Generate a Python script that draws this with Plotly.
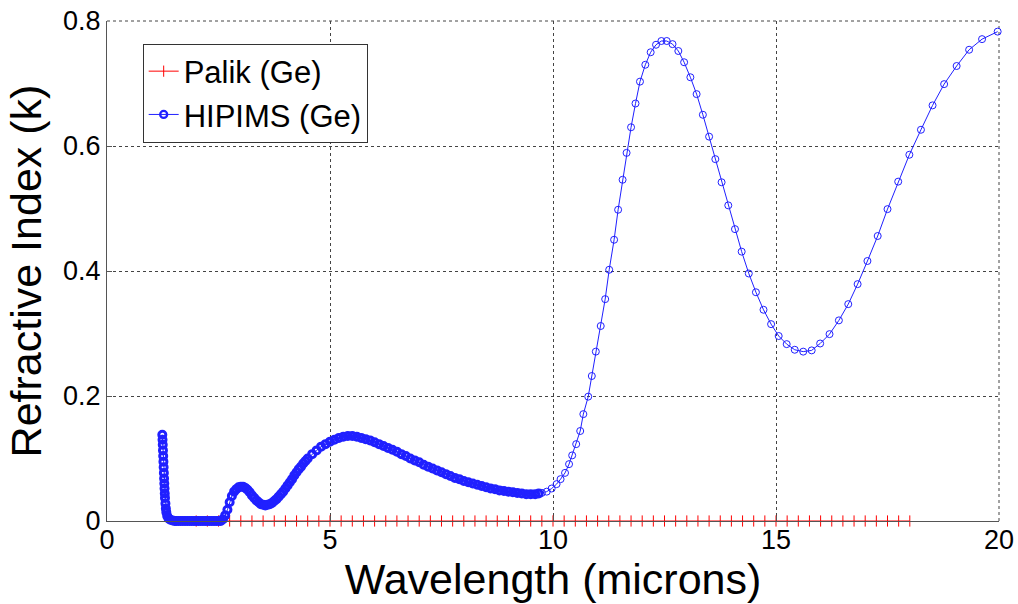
import plotly.graph_objects as go

# ---- Data ----
palik_wavelength = [2.0, 2.25, 2.5, 2.75, 3.0, 3.25, 3.5, 3.75, 4.0, 4.25, 4.5, 4.75,
                    5.0, 5.25, 5.5, 5.75, 6.0, 6.25, 6.5, 6.75, 7.0, 7.25, 7.5, 7.75,
                    8.0, 8.25, 8.5, 8.75, 9.0, 9.25, 9.5, 9.75, 10.0, 10.25, 10.5, 10.75,
                    11.0, 11.25, 11.5, 11.75, 12.0, 12.25, 12.5, 12.75, 13.0, 13.25, 13.5,
                    13.75, 14.0, 14.25, 14.5, 14.75, 15.0, 15.25, 15.5, 15.75, 16.0, 16.25,
                    16.5, 16.75, 17.0, 17.25, 17.5, 17.75, 18.0]
palik_k = [0.0] * len(palik_wavelength)

hipims_wavelength = [
    1.240, 1.245, 1.250, 1.255, 1.260, 1.265, 1.270, 1.275, 1.280, 1.285, 1.290, 1.295,
    1.300, 1.310, 1.320, 1.330, 1.350, 1.380, 1.420, 1.470, 1.520,
    1.55, 1.60, 1.65, 1.70, 1.75, 1.80, 1.85, 1.90, 1.95, 2.00, 2.05, 2.10, 2.15, 2.20,
    2.25, 2.30, 2.35, 2.40, 2.45, 2.50, 2.55,
    2.60, 2.65, 2.70, 2.75, 2.80, 2.85, 2.90, 2.95, 3.00, 3.05, 3.10, 3.15, 3.20, 3.25,
    3.30, 3.35, 3.40, 3.45, 3.50, 3.55, 3.60, 3.65, 3.70, 3.75, 3.80, 3.85, 3.90, 3.95,
    4.00, 4.05, 4.10, 4.15, 4.20, 4.25, 4.30, 4.35, 4.40, 4.45, 4.50,
    4.60, 4.70, 4.80, 4.90, 5.00, 5.10, 5.20, 5.30, 5.40, 5.50, 5.60, 5.70, 5.80, 5.90,
    6.00, 6.10, 6.20, 6.30, 6.40, 6.50, 6.60, 6.70, 6.80, 6.90, 7.00, 7.10, 7.20, 7.30,
    7.40, 7.50, 7.60, 7.70, 7.80, 7.90, 8.00, 8.10, 8.20, 8.30, 8.40, 8.50, 8.60, 8.70,
    8.80, 8.90, 9.00, 9.10, 9.20, 9.30, 9.40, 9.50, 9.60, 9.68,
    9.75, 9.86, 9.97, 10.08, 10.17, 10.27, 10.36, 10.43, 10.52, 10.61, 10.68, 10.79,
    10.87, 10.96, 11.07, 11.17, 11.26, 11.37, 11.46, 11.56, 11.65, 11.75, 11.85, 11.95,
    12.07, 12.19, 12.31, 12.43, 12.55, 12.68, 12.81, 12.94, 13.08, 13.22, 13.36, 13.50,
    13.64, 13.78, 13.93, 14.08, 14.23, 14.39, 14.55, 14.72, 14.89, 15.06, 15.24, 15.42,
    15.61, 15.80, 15.99, 16.20, 16.41, 16.62, 16.83, 17.05, 17.28, 17.50, 17.74, 17.99,
    18.25, 18.51, 18.77, 19.05, 19.33, 19.62, 19.97]
hipims_k = [
    0.138, 0.130, 0.122, 0.113, 0.104, 0.095, 0.086, 0.077, 0.068, 0.060, 0.052, 0.044,
    0.037, 0.028, 0.020, 0.014, 0.008, 0.004, 0.002, 0.001, 0.000,
    0.0, 0.0, 0.0, 0.0, 0.0, 0.0, 0.0, 0.0, 0.0, 0.0, 0.0, 0.0, 0.0, 0.0,
    0.0, 0.0, 0.0, 0.0, 0.0, 0.0, 0.0,
    0.003, 0.009, 0.018, 0.030, 0.040, 0.047, 0.051, 0.054, 0.055, 0.055, 0.053, 0.050,
    0.046, 0.041, 0.037, 0.033, 0.030, 0.027, 0.026, 0.025, 0.026, 0.027, 0.029, 0.032,
    0.035, 0.039, 0.043, 0.047, 0.052, 0.057, 0.062, 0.067, 0.073, 0.078, 0.083, 0.087,
    0.092, 0.096, 0.100,
    0.107, 0.113, 0.119, 0.123, 0.127, 0.130, 0.133, 0.135, 0.136, 0.136, 0.135, 0.133,
    0.131, 0.129, 0.126, 0.123, 0.120, 0.117, 0.114, 0.111, 0.107, 0.104, 0.100, 0.097,
    0.094, 0.090, 0.087, 0.084, 0.081, 0.078, 0.075, 0.072, 0.069, 0.067, 0.064, 0.062,
    0.060, 0.058, 0.056, 0.054, 0.052, 0.051, 0.049, 0.048, 0.047, 0.046, 0.045, 0.044,
    0.043, 0.043, 0.043, 0.044,
    0.045, 0.047, 0.052, 0.059, 0.067, 0.077, 0.091, 0.105, 0.123, 0.144, 0.171, 0.199,
    0.232, 0.271, 0.312, 0.355, 0.402, 0.450, 0.498, 0.546, 0.589, 0.630, 0.668, 0.703,
    0.730, 0.750, 0.762, 0.768, 0.768, 0.763, 0.752, 0.734, 0.710, 0.683, 0.650, 0.615,
    0.579, 0.542, 0.505, 0.467, 0.431, 0.396, 0.366, 0.338, 0.315, 0.296, 0.283, 0.274,
    0.271, 0.273, 0.284, 0.299, 0.321, 0.347, 0.379, 0.416, 0.456, 0.499, 0.543, 0.586,
    0.626, 0.665, 0.699, 0.728, 0.754, 0.771, 0.783]

x_ticks = [0, 5, 10, 15, 20]
y_ticks = [0, 0.2, 0.4, 0.6, 0.8]

FONT = "Arial, 'Liberation Sans', Helvetica, sans-serif"

# In the reference the short-wavelength part of the HIPIMS curve is so densely sampled
# that its markers merge into a solid band; emulate with heavier marker outlines there.
dense_limit = 9.72
hipims_marker_lw = [3.0 if w < dense_limit else 1.0 for w in hipims_wavelength]

fig = go.Figure()
fig.add_trace(go.Scatter(
    x=palik_wavelength, y=palik_k, name="Palik (Ge)", mode="lines+markers",
    line=dict(color="red", width=1),
    marker=dict(symbol="line-ns", size=8, color="red", line=dict(color="red", width=1)),
    cliponaxis=False,
))
fig.add_trace(go.Scatter(
    x=hipims_wavelength, y=hipims_k, name="HIPIMS (Ge)", mode="lines+markers",
    line=dict(color="#2020ff", width=1),
    marker=dict(symbol="circle-open", size=7, color="#2020ff",
                line=dict(color="#2020ff", width=hipims_marker_lw)),
    cliponaxis=False,
))

axis_common = dict(
    showgrid=True, gridcolor="#444444", griddash="dot", gridwidth=1,
    showline=True, linecolor="#555555", linewidth=1, mirror=False,
    ticks="inside", ticklen=5, tickcolor="#555555", tickwidth=1,
    zeroline=False, automargin=False,
    tickfont=dict(family=FONT, size=27, color="black"),
)

fig.update_layout(
    width=1018, height=604,
    margin=dict(l=107, r=19, t=21, b=83),
    paper_bgcolor="white", plot_bgcolor="white",
    font=dict(family=FONT, color="black"),
    showlegend=True,
    legend=dict(
        x=0.04, y=0.955, xanchor="left", yanchor="top",
        bgcolor="white", bordercolor="#333333", borderwidth=1,
        font=dict(family=FONT, size=31, color="black"),
        tracegroupgap=0,
    ),
    xaxis=dict(axis_common, range=[0, 20], tickvals=x_ticks, ticklabelstandoff=-5,
               title=dict(text="Wavelength (microns)", font=dict(family=FONT, size=43), standoff=3)),
    yaxis=dict(axis_common, range=[0, 0.8], tickvals=y_ticks,
               title=dict(text="Refractive Index (k)", font=dict(family=FONT, size=43), standoff=8)),
    shapes=[
        dict(type="line", xref="paper", yref="paper", x0=0, x1=1, y0=1, y1=1,
             line=dict(color="#444444", width=1, dash="dot"), layer="below"),
        dict(type="line", xref="paper", yref="paper", x0=1, x1=1, y0=0, y1=1,
             line=dict(color="#444444", width=1, dash="dot"), layer="below"),
    ],
)

fig.write_html("out.html", config={"displayModeBar": False},
               post_script="document.body.style.margin='0';")
